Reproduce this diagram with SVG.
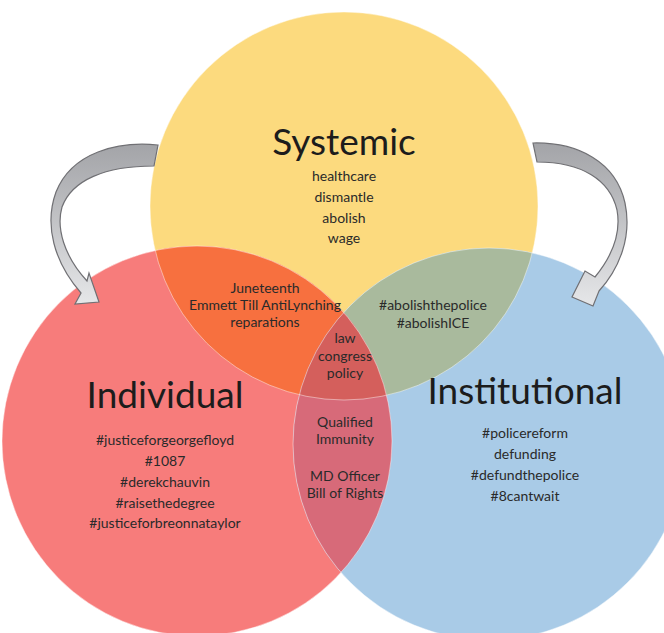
<svg xmlns="http://www.w3.org/2000/svg" width="664" height="633" viewBox="0 0 664 633">
<defs>
<style>
.t{font-family:Lato,"Liberation Sans",sans-serif;fill:#1c1c1c;text-anchor:middle}
.title{font-size:37px}
.s{font-size:14px;fill:#2a2a2a}
.edge{stroke:#ffffff;stroke-opacity:0.45;stroke-width:1}
.arrow{stroke:#707074;stroke-width:1.2}
</style>
<clipPath id="cy"><circle cx="344" cy="206" r="194"/></clipPath>
<clipPath id="cr"><circle cx="197" cy="441" r="195"/></clipPath>
<clipPath id="cb"><circle cx="489" cy="444" r="196"/></clipPath>
<linearGradient id="gl" x1="0" y1="0" x2="0" y2="1">
<stop offset="0" stop-color="#a3a4a8"/><stop offset="0.35" stop-color="#b9babd"/><stop offset="1" stop-color="#e6e7e9"/>
</linearGradient>
</defs>
<rect width="664" height="633" fill="#ffffff"/>
<g id="systemic-circle"><circle cx="344" cy="206" r="194" fill="#fcda7e"/></g>
<g id="individual-circle"><circle cx="197" cy="441" r="195" fill="#f77c7b"/></g>
<g id="institutional-circle"><circle cx="489" cy="444" r="196" fill="#a9cbe7"/></g>
<g id="overlaps">
<g clip-path="url(#cy)"><circle cx="197" cy="441" r="195" fill="#f7703f"/><circle cx="489" cy="444" r="196" fill="#a9ba9d"/></g>
<g clip-path="url(#cr)"><circle cx="489" cy="444" r="196" fill="#d76a79"/></g>
<g clip-path="url(#cy)"><g clip-path="url(#cr)"><circle cx="489" cy="444" r="196" fill="#d45f5c"/></g></g>
<circle class="edge" cx="344" cy="206" r="194" fill="none"/>
<circle class="edge" cx="197" cy="441" r="195" fill="none"/>
<circle class="edge" cx="489" cy="444" r="196" fill="none"/>
</g>
<g id="connectors">
<path class="arrow" fill="url(#gl)" d="M158,145 C118,141 72,152 56,192 C44,225 54,262 81,293 L75,304 L99,302 L89,273 L87,281 C64,256 56,228 62,207 C72,180 105,166 154,166 Z"/>
<path class="arrow" fill="url(#gl)" d="M533,143 C578,142 616,162 625,203 C632,236 620,268 599,291 L593,306 L572,297 L585,271 L595,277 C613,255 621,232 617,210 C610,180 582,162 537,162 Z"/>
</g>
<g id="systemic">
<text class="t title" x="344" y="155">Systemic</text>
<text class="t s" x="344" y="181">healthcare</text>
<text class="t s" x="344" y="202">dismantle</text>
<text class="t s" x="344" y="223">abolish</text>
<text class="t s" x="344" y="243">wage</text>
</g>
<g id="individual-systemic">
<text class="t s" x="265" y="293">Juneteenth</text>
<text class="t s" x="265" y="310">Emmett Till AntiLynching</text>
<text class="t s" x="265" y="327">reparations</text>
</g>
<g id="systemic-institutional">
<text class="t s" x="433" y="310">#abolishthepolice</text>
<text class="t s" x="433" y="328">#abolishICE</text>
</g>
<g id="all-three">
<text class="t s" x="345" y="343">law</text>
<text class="t s" x="345" y="361">congress</text>
<text class="t s" x="345" y="378">policy</text>
</g>
<g id="individual-institutional">
<text class="t s" x="345" y="427">Qualified</text>
<text class="t s" x="345" y="444">Immunity</text>
<text class="t s" x="345" y="481">MD Officer</text>
<text class="t s" x="345" y="498">Bill of Rights</text>
</g>
<g id="individual">
<text class="t title" x="165" y="408">Individual</text>
<text class="t s" x="165" y="445">#justiceforgeorgefloyd</text>
<text class="t s" x="165" y="466">#1087</text>
<text class="t s" x="165" y="487">#derekchauvin</text>
<text class="t s" x="165" y="508">#raisethedegree</text>
<text class="t s" x="165" y="528">#justiceforbreonnataylor</text>
</g>
<g id="institutional">
<text class="t title" x="525" y="404">Institutional</text>
<text class="t s" x="525" y="438">#policereform</text>
<text class="t s" x="525" y="459">defunding</text>
<text class="t s" x="525" y="480">#defundthepolice</text>
<text class="t s" x="525" y="501">#8cantwait</text>
</g>
</svg>
